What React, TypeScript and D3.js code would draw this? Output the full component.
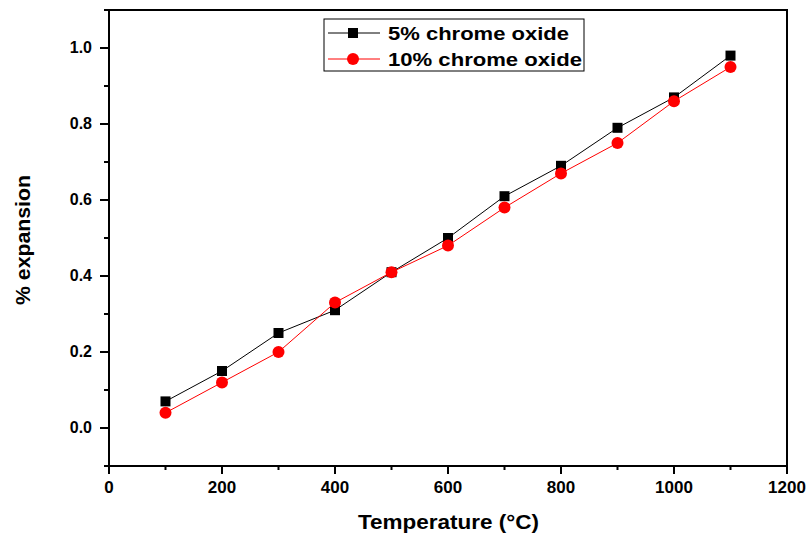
import React from "react";
import * as d3 from "d3";

const temperatures = [100, 200, 300, 400, 500, 600, 700, 800, 900, 1000, 1100];
const chrome5 = [0.07, 0.15, 0.25, 0.31, 0.41, 0.5, 0.61, 0.69, 0.79, 0.87, 0.98];
const chrome10 = [0.04, 0.12, 0.2, 0.33, 0.41, 0.48, 0.58, 0.67, 0.75, 0.86, 0.95];
const xTicks = [0, 200, 400, 600, 800, 1000, 1200];
const yTicks = [0.0, 0.2, 0.4, 0.6, 0.8, 1.0];
const seriesNames = ["5% chrome oxide", "10% chrome oxide"];

const W = 810;
const H = 536;
const left = 109;
const right = 787;
const top = 10;
const bottom = 466;
const font = "Arial, 'Liberation Sans', sans-serif";

export default function App() {
  const x = d3.scaleLinear().domain([0, 1200]).range([left, right]);
  const y = d3.scaleLinear().domain([-0.1, 1.1]).range([bottom, top]);

  const line = d3
    .line<[number, number]>()
    .x((d) => x(d[0]))
    .y((d) => y(d[1]));

  const s5 = temperatures.map((t, i) => [t, chrome5[i]] as [number, number]);
  const s10 = temperatures.map((t, i) => [t, chrome10[i]] as [number, number]);

  const xMinor = d3.range(100, 1200, 200);
  const yMinor = d3.range(-0.1, 1.1, 0.2).map((v) => +v.toFixed(2));

  return (
    <svg
      width={W}
      height={H}
      style={{ position: "absolute", left: 0, top: 0, background: "#fff" }}
    >
      {/* series 5% */}
      <path d={line(s5) || ""} fill="none" stroke="#000" strokeWidth={1} />
      {s5.map((d, i) => (
        <rect
          key={"s" + i}
          x={x(d[0]) - 5}
          y={y(d[1]) - 5}
          width={10}
          height={10}
          fill="#000"
        />
      ))}
      {/* series 10% */}
      <path d={line(s10) || ""} fill="none" stroke="#ff0000" strokeWidth={1} />
      {s10.map((d, i) => (
        <circle key={"c" + i} cx={x(d[0])} cy={y(d[1])} r={6} fill="#ff0000" />
      ))}

      {/* frame */}
      <rect
        x={left}
        y={top}
        width={right - left}
        height={bottom - top}
        fill="none"
        stroke="#000"
        strokeWidth={2}
      />

      {/* x ticks */}
      {xTicks.map((t) => (
        <g key={"xt" + t}>
          <line x1={x(t)} x2={x(t)} y1={bottom} y2={bottom + 8} stroke="#000" strokeWidth={2} />
          <text
            x={x(t)}
            y={bottom + 27}
            textAnchor="middle"
            fontFamily={font}
            fontWeight="bold"
            fontSize={17}
          >
            {t}
          </text>
        </g>
      ))}
      {xMinor.map((t) => (
        <line key={"xm" + t} x1={x(t)} x2={x(t)} y1={bottom} y2={bottom + 4} stroke="#000" strokeWidth={2} />
      ))}

      {/* y ticks */}
      {yTicks.map((t) => (
        <g key={"yt" + t}>
          <line x1={left - 9} x2={left} y1={y(t)} y2={y(t)} stroke="#000" strokeWidth={2} />
          <text
            x={left - 17}
            y={y(t) + 4.5}
            textAnchor="end"
            fontFamily={font}
            fontWeight="bold"
            fontSize={16}
          >
            {t.toFixed(1)}
          </text>
        </g>
      ))}
      {yMinor.map((t) => (
        <line key={"ym" + t} x1={left - 5} x2={left} y1={y(t)} y2={y(t)} stroke="#000" strokeWidth={2} />
      ))}

      {/* axis titles */}
      <text
        x={358}
        y={529}
        fontFamily={font}
        fontWeight="bold"
        fontSize={19.5}
        textLength={181}
        lengthAdjust="spacingAndGlyphs"
      >
        Temperature (°C)
      </text>
      <text
        transform="translate(30, 305) rotate(-90)"
        fontFamily={font}
        fontWeight="bold"
        fontSize={19.5}
        textLength={130}
        lengthAdjust="spacingAndGlyphs"
      >
        % expansion
      </text>

      {/* legend */}
      <rect x={324} y={19} width={260} height={52} fill="#fff" stroke="#000" strokeWidth={1} />
      <line x1={328} x2={380} y1={33} y2={33} stroke="#000" strokeWidth={1} />
      <rect x={348} y={28} width={10} height={10} fill="#000" />
      <text
        x={388}
        y={40}
        fontFamily={font}
        fontWeight="bold"
        fontSize={18.5}
        textLength={181}
        lengthAdjust="spacingAndGlyphs"
      >
        {seriesNames[0]}
      </text>
      <line x1={328} x2={380} y1={59} y2={59} stroke="#ff0000" strokeWidth={1} />
      <circle cx={353} cy={59} r={6} fill="#ff0000" />
      <text
        x={388}
        y={66}
        fontFamily={font}
        fontWeight="bold"
        fontSize={18.5}
        textLength={194}
        lengthAdjust="spacingAndGlyphs"
      >
        {seriesNames[1]}
      </text>
    </svg>
  );
}
